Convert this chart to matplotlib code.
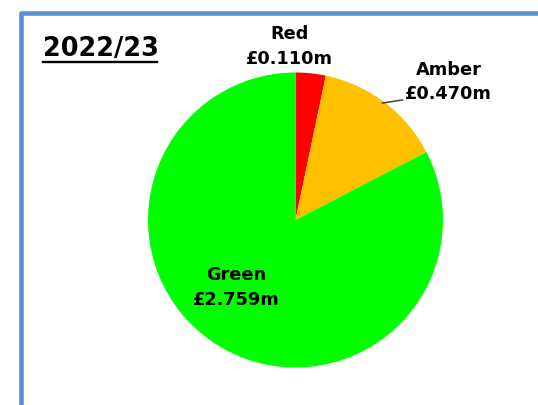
import matplotlib
matplotlib.use("Agg")
import matplotlib.pyplot as plt
from matplotlib.lines import Line2D

title = "2022/23"
categories = ["Red", "Amber", "Green"]
values = [0.110, 0.470, 2.759]
colors = ["#FF0000", "#FFC000", "#00FF00"]

W, H = 538, 405
fig = plt.figure(figsize=(W / 100, H / 100), dpi=100)
fig.patch.set_facecolor("white")

def fx(px):
    return px / W

def fy(py):
    return 1 - py / H

# Border (top + left)
border = "#5B8FD8"
fig.add_artist(Line2D([fx(20.8), fx(20.8), fx(540)], [fy(410), fy(13), fy(13)],
                      transform=fig.transFigure, color=border, lw=3.3,
                      solid_joinstyle="round", solid_capstyle="butt"))

# Pie axes: centre (296, 220) px, radius 147.5 px
cx, cy, r = 295.5, 220.0, 147.5
ax = fig.add_axes([fx(cx - r), fy(cy + r), (2 * r) / W, (2 * r) / H])
ax.pie(values, colors=colors, startangle=90, counterclock=False, radius=1,
       wedgeprops=dict(linewidth=0))
ax.set_xlim(-1, 1)
ax.set_ylim(-1, 1)
ax.set_aspect("auto")
ax.axis("off")

font = dict(family="DejaVu Sans", weight="bold", size=12.8, color="black")
labels = [f"{c}\n£{v:.3f}m" for c, v in zip(categories, values)]
label_pos = [(-0.041, 1.176), (1.037, 0.936), (-0.40, -0.458)]
for lab, (x, y) in zip(labels, label_pos):
    ax.text(x, y, lab, ha="center", va="center", linespacing=1.45,
            clip_on=False, **font)

# Leader line for Amber
ax.plot([0.59, 0.725], [0.793, 0.814], color="#404040", lw=1.1, clip_on=False)

# Title with underline
fig.text(fx(43), fy(56), title, ha="left", va="baseline",
         family="DejaVu Sans", weight="bold", size=18.4, color="black")
fig.add_artist(Line2D([fx(43), fx(157)], [fy(62), fy(62)],
                      transform=fig.transFigure, color="black", lw=1.7))

fig.savefig("out.png", dpi=100, facecolor="white")
